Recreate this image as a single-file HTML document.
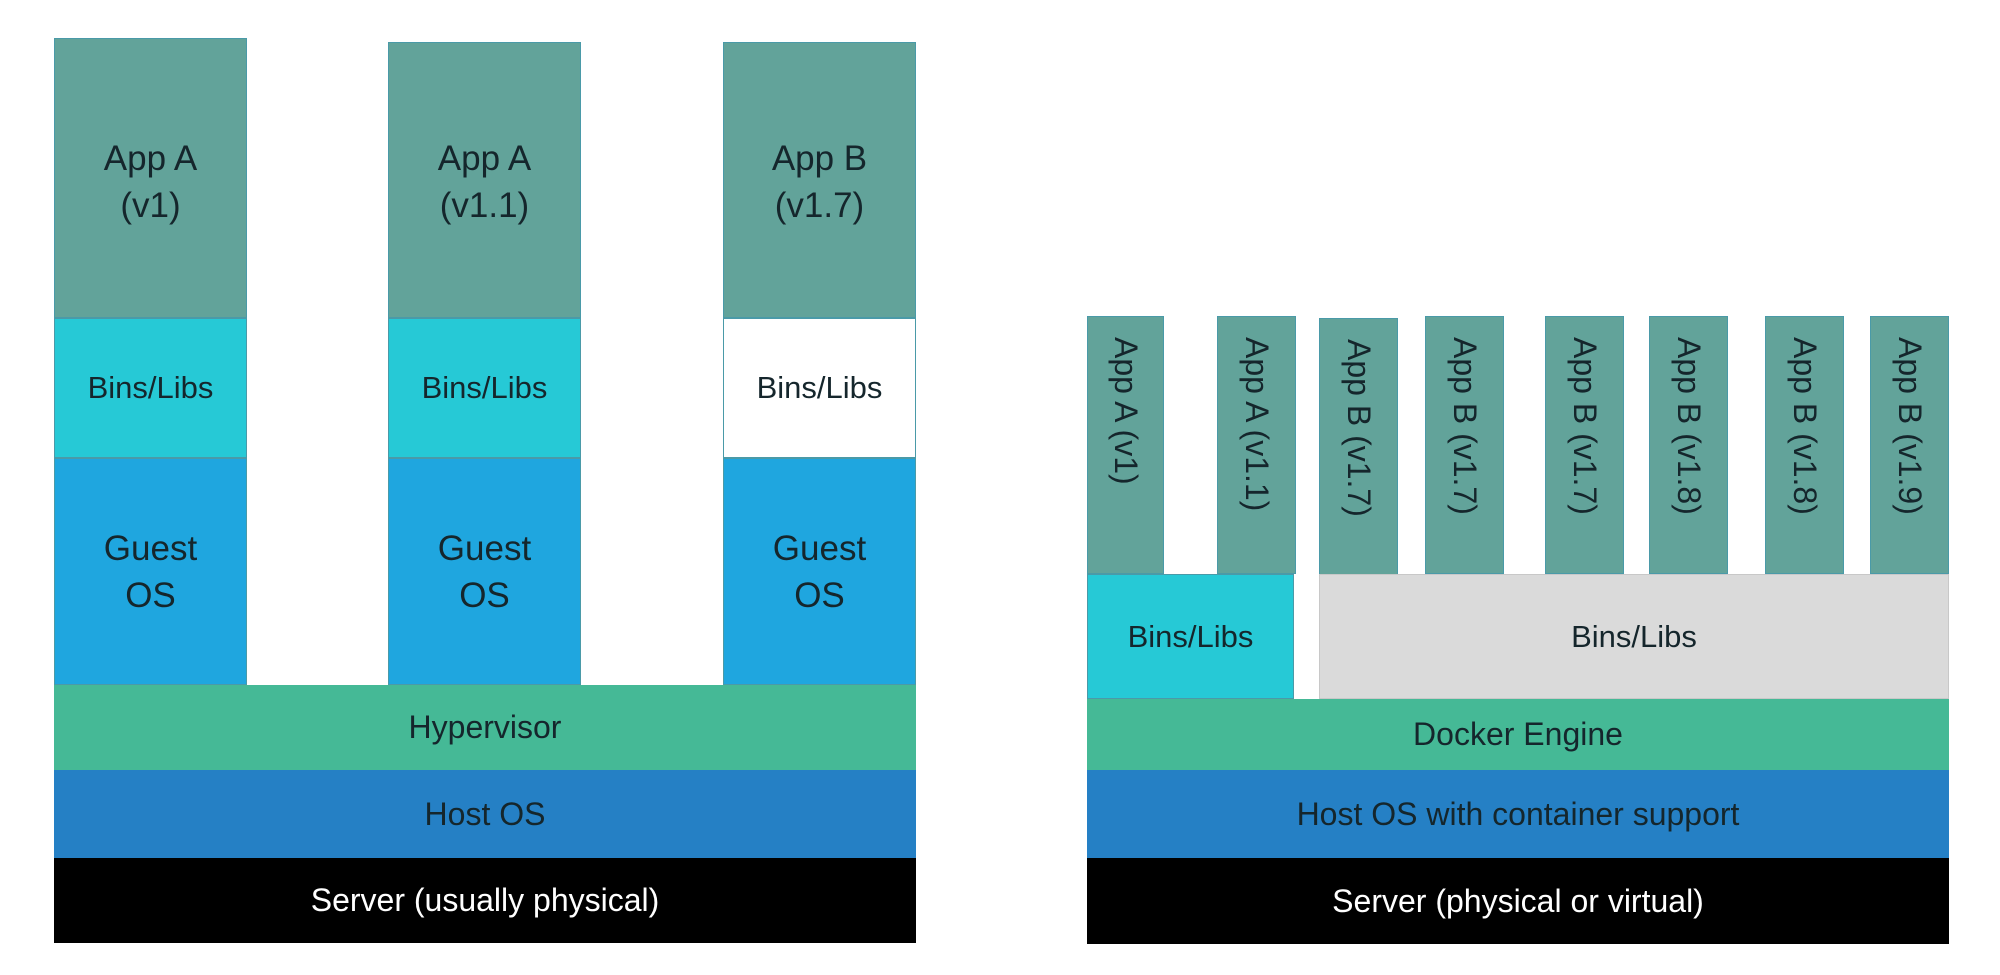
<!DOCTYPE html>
<html><head><style>
body{margin:0;width:2000px;height:975px;background:#fff;position:relative;overflow:hidden;font-family:"Liberation Sans",sans-serif;}
.b{position:absolute;box-sizing:border-box;display:flex;align-items:center;justify-content:center;text-align:center;color:#15262c;border:1px solid #4a9aa8;}
.app{background:#62a39a;font-size:35px;line-height:47px;}
.bins{background:#26c9d6;font-size:31px;}
.g{background:#1fa6df;font-size:35px;line-height:47px;}
.hy{background:#45b996;font-size:32px;border:none;}
.ho{background:#2580c5;font-size:32px;border:none;}
.sv{background:#000;color:#fff;font-size:32px;border:none;}
.v{writing-mode:vertical-rl;font-size:32px;align-items:center;justify-content:flex-start;padding-top:20px;}
</style></head><body>
<!-- left -->
<div class="b app" style="left:54px;top:38px;width:193px;height:280px;align-items:flex-start;padding-top:96px">App A<br>(v1)</div>
<div class="b app" style="left:388px;top:42px;width:193px;height:276px;align-items:flex-start;padding-top:92px">App A<br>(v1.1)</div>
<div class="b app" style="left:723px;top:42px;width:193px;height:276px;align-items:flex-start;padding-top:92px">App B<br>(v1.7)</div>
<div class="b bins" style="left:54px;top:318px;width:193px;height:140px">Bins/Libs</div>
<div class="b bins" style="left:388px;top:318px;width:193px;height:140px">Bins/Libs</div>
<div class="b bins" style="left:723px;top:318px;width:193px;height:140px;background:#fff">Bins/Libs</div>
<div class="b g" style="left:54px;top:458px;width:193px;height:227px;align-items:flex-start;padding-top:66px">Guest<br>OS</div>
<div class="b g" style="left:388px;top:458px;width:193px;height:227px;align-items:flex-start;padding-top:66px">Guest<br>OS</div>
<div class="b g" style="left:723px;top:458px;width:193px;height:227px;align-items:flex-start;padding-top:66px">Guest<br>OS</div>
<div class="b hy" style="left:54px;top:685px;width:862px;height:85px">Hypervisor</div>
<div class="b ho" style="left:54px;top:770px;width:862px;height:88px">Host OS</div>
<div class="b sv" style="left:54px;top:858px;width:862px;height:85px">Server (usually physical)</div>
<!-- right -->
<div class="b app v" style="left:1087px;top:316px;width:77px;height:258px">App A (v1)</div>
<div class="b app v" style="left:1217px;top:316px;width:79px;height:258px">App A (v1.1)</div>
<div class="b app v" style="left:1319px;top:318px;width:79px;height:258px">App B (v1.7)</div>
<div class="b app v" style="left:1425px;top:316px;width:79px;height:258px">App B (v1.7)</div>
<div class="b app v" style="left:1545px;top:316px;width:79px;height:258px">App B (v1.7)</div>
<div class="b app v" style="left:1649px;top:316px;width:79px;height:258px">App B (v1.8)</div>
<div class="b app v" style="left:1765px;top:316px;width:79px;height:258px">App B (v1.8)</div>
<div class="b app v" style="left:1870px;top:316px;width:79px;height:258px">App B (v1.9)</div>
<div class="b bins" style="left:1087px;top:574px;width:207px;height:125px">Bins/Libs</div>
<div class="b bins" style="left:1319px;top:574px;width:630px;height:125px;background:#dadada;border-color:#c8c8c8">Bins/Libs</div>
<div class="b hy" style="left:1087px;top:699px;width:862px;height:71px">Docker Engine</div>
<div class="b ho" style="left:1087px;top:770px;width:862px;height:88px">Host OS with container support</div>
<div class="b sv" style="left:1087px;top:858px;width:862px;height:86px">Server (physical or virtual)</div>
</body></html>
